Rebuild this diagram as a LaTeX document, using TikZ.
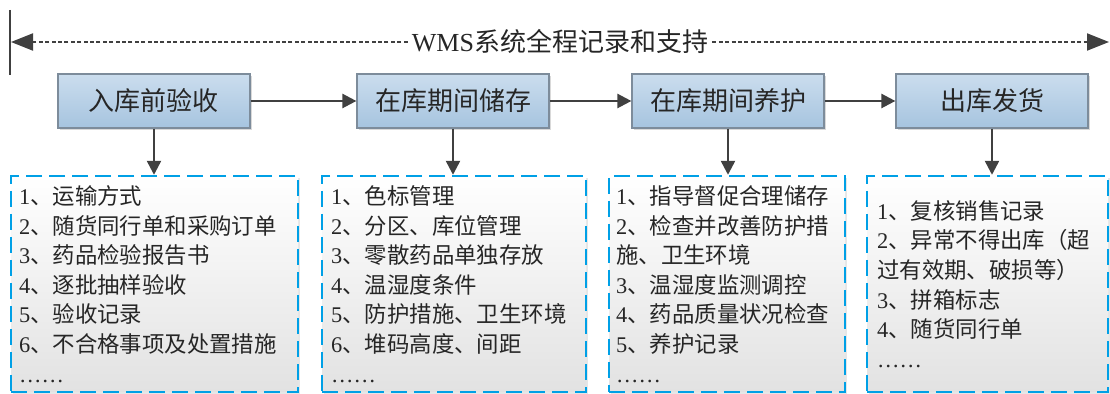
\documentclass[tikz,border=0pt]{standalone}
\usepackage{fontspec}
\setmainfont{Liberation Serif}
\newfontfamily\cjk{Noto Sans CJK SC}
\usetikzlibrary{arrows.meta,shadows}
\definecolor{linegray}{RGB}{64,64,64}
\definecolor{boxtop}{RGB}{203,221,238}
\definecolor{boxbot}{RGB}{166,196,223}
\definecolor{boxline}{RGB}{125,140,155}
\definecolor{dashblue}{RGB}{0,160,230}
\definecolor{listbot}{RGB}{226,226,226}
\newcommand\li[2]{#1{\cjk 、#2}}

\begin{document}
\begin{tikzpicture}[x=0.5pt,y=-0.5pt,
  stage/.style={draw=boxline,line width=0.6pt,top color=boxtop,bottom color=boxbot,
    minimum width=96pt,minimum height=27pt,text=black!85,
    font=\cjk\fontsize{13}{15}\selectfont,
    drop shadow={shadow xshift=1.2pt,shadow yshift=-1.2pt,opacity=0.3}},
  listbox/.style={draw=dashblue,line width=1.2pt,dash pattern=on 8pt off 3.5pt,
    top color=white,bottom color=listbot,minimum height=108pt,
    drop shadow={shadow xshift=1.2pt,shadow yshift=-1.2pt,opacity=0.2}},
  listtext/.style={anchor=west,align=left,inner sep=0pt,text=black!85,
    font=\fontsize{11.2}{14.8}\selectfont},
  arr/.style={draw=linegray,line width=1.2pt,-{Triangle[length=7pt,width=7pt]}},
  dotline/.style={draw=linegray,line width=1pt,dash pattern=on 2pt off 1.2pt,
    -{Triangle[length=11pt,width=8.5pt]}}]
\useasboundingbox (0,0) rectangle (1110,394);

\draw[linegray,line width=1.2pt] (10,10) -- (10,75);
\coordinate (lend) at (11,42);
\coordinate (rend) at (1109,42);
\node[fill=white,inner sep=2pt,text=black!85,font=\fontsize{13}{15}\selectfont]
  (wms) at (560,42) {WMS{\cjk 系统全程记录和支持}};
\draw[dotline] (wms) -- (lend);
\draw[dotline] (wms) -- (rend);

\node[stage] (b1) at (154,101) {入库前验收};
\node[stage] (b2) at (453,101) {在库期间储存};
\node[stage] (b3) at (728,101) {在库期间养护};
\node[stage] (b4) at (992,101) {出库发货};

\node[listbox,minimum width=143.5pt] (d1) at (154.5,284) {};
\node[listbox,minimum width=132pt] (d2) at (454,284) {};
\node[listbox,minimum width=118pt] (d3) at (727,284) {};
\node[listbox,minimum width=120.5pt] (d4) at (987.5,284) {};

\draw[arr] (b1) -- (b2);
\draw[arr] (b2) -- (b3);
\draw[arr] (b3) -- (b4);
\draw[arr] (b1.south) -- (b1.south |- d1.north);
\draw[arr] (b2.south) -- (b2.south |- d2.north);
\draw[arr] (b3.south) -- (b3.south |- d3.north);
\draw[arr] (b4.south) -- (b4.south |- d4.north);

\node[listtext] (t1) at ([xshift=4.5pt]d1.west) {\li{1}{运输方式}\\\li{2}{随货同行单和采购订单}\\
  \li{3}{药品检验报告书}\\\li{4}{逐批抽样验收}\\\li{5}{验收记录}\\
  \li{6}{不合格事项及处置措施}\\……};
\node[listtext] (t2) at ([xshift=5pt]d2.west) {\li{1}{色标管理}\\\li{2}{分区、库位管理}\\
  \li{3}{零散药品单独存放}\\\li{4}{温湿度条件}\\\li{5}{防护措施、卫生环境}\\
  \li{6}{堆码高度、间距}\\……};
\node[listtext] (t3) at ([xshift=4pt]d3.west) {\li{1}{指导督促合理储存}\\\li{2}{检查并改善防护措}\\
  {\cjk 施、卫生环境}\\\li{3}{温湿度监测调控}\\\li{4}{药品质量状况检查}\\
  \li{5}{养护记录}\\……};
\node[listtext] (t4) at ([xshift=5.5pt]d4.west) {\li{1}{复核销售记录}\\\li{2}{异常不得出库（超}\\
  {\cjk 过有效期、破损等）}\\\li{3}{拼箱标志}\\\li{4}{随货同行单}\\……};
\end{tikzpicture}
\end{document}
